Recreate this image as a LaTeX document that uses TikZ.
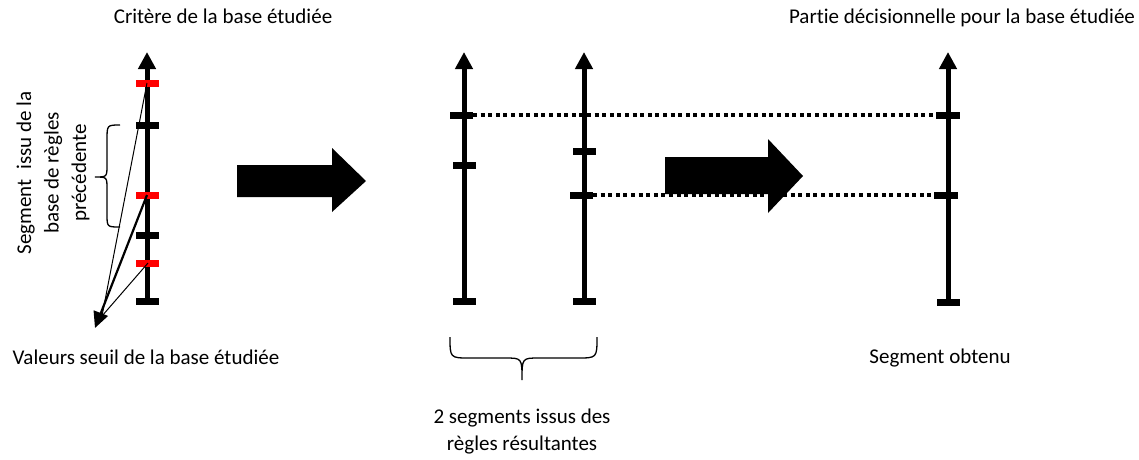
\documentclass[tikz,border=0pt]{standalone}
\usepackage{fontspec}
\setmainfont{Carlito}[Ligatures=NoCommon]
\usetikzlibrary{arrows.meta}
\definecolor{tickred}{RGB}{255,0,0}
\begin{document}
\begin{tikzpicture}[x=1pt,y=-1pt,
  axisline/.style={line width=5pt,-{Triangle[length=17pt,width=17pt]}},
  tickblack/.style={fill=black,draw=none},
  tickredst/.style={fill=tickred,draw=none},
  dottedline/.style={line width=3.5pt,dash pattern=on 4pt off 3.6pt},
  bigarrow/.style={fill=black,draw=none},
  bracest/.style={line width=1.3pt},
  lbl/.style={font=\fontsize{21}{26}\selectfont,inner sep=0pt,anchor=base}]
\useasboundingbox (0,0) rectangle (1139,459);
% ---- left axis
\coordinate (A0b) at (147,301); \coordinate (A0t) at (147,52);
\draw[axisline] (A0b) -- (A0t);
\foreach \y in {125,235,301} \fill[tickblack] (135.5,\y-3.5) rectangle (158.5,\y+3.5);
\foreach \y in {83,195,263} \fill[tickredst] (135.5,\y-3.5) rectangle (158.5,\y+3.5);
% lines to threshold point
\coordinate (R1) at (147,83); \coordinate (R2) at (147,195); \coordinate (R3) at (148,263);
\coordinate (P) at (102,316); \coordinate (Ptip) at (95,328);
\draw[line width=1pt] (R1) -- (P);
\draw[line width=1pt] (R3) -- (P);
\draw[line width=2.2pt,-{Triangle[length=16pt,width=15pt]}] (R2) -- (Ptip);
% left brace
\draw[bracest] (120,125) .. controls (107,125) .. (107,140) -- (107,165) .. controls (107,177) .. (95,177)
  .. controls (107,177) .. (107,189) -- (107,214) .. controls (107,227) .. (120,227);
% ---- first big arrow
\fill[bigarrow] (237,165) -- (332,165) -- (332,148) -- (366,181) -- (332,212) -- (332,197) -- (237,197) -- cycle;
% ---- middle axes
\coordinate (B1b) at (464,301); \coordinate (B1t) at (464,52);
\coordinate (B2b) at (584,301); \coordinate (B2t) at (584,52);
\coordinate (Cb) at (948,302); \coordinate (Ct) at (948,52);
% dotted lines
\coordinate (D1s) at (473,115); \coordinate (D1e) at (936,115);
\coordinate (D2s) at (593,195); \coordinate (D2e) at (936,195);
\draw[dottedline] (D1s) -- (D1e);
\draw[dottedline] (D2s) -- (D2e);
\draw[axisline] (B1b) -- (B1t);
\draw[axisline] (B2b) -- (B2t);
\draw[axisline] (Cb) -- (Ct);
\fill[tickblack] (450,111.5) rectangle (473,118.5);
\fill[tickblack] (452.5,161.5) rectangle (475.5,168.5);
\fill[tickblack] (452.5,297.5) rectangle (475.5,304.5);
\fill[tickblack] (572.5,147.5) rectangle (595.5,154.5);
\fill[tickblack] (570,191.5) rectangle (593,198.5);
\fill[tickblack] (572.5,297.5) rectangle (595.5,304.5);
\fill[tickblack] (936,111.5) rectangle (960,118.5);
\fill[tickblack] (934,191.5) rectangle (958,198.5);
\fill[tickblack] (936.5,298.5) rectangle (959.5,305.5);
% ---- second big arrow
\fill[bigarrow] (665,157) -- (768,157) -- (768,139) -- (803,176) -- (768,213) -- (768,194) -- (665,194) -- cycle;
% bottom brace
\draw[bracest] (450,337) .. controls (450,358) .. (470,358) -- (505,358) .. controls (522,358) .. (522,380)
  .. controls (522,358) .. (539,358) -- (577,358) .. controls (597,358) .. (597,337);
% ---- labels
\node[lbl] (t1) at (223,23) {Critère de la base étudiée};
\node[lbl] (t2) at (962,23) {Partie décisionnelle pour la base étudiée};
\node[lbl] (t3) at (146,364) {Valeurs seuil de la base étudiée};
\node[lbl] (t4) at (940,363) {Segment obtenu};
\node[lbl] (t5) at (522,423) {2 segments issus des};
\node[lbl] (t6) at (522,450) {règles résultantes};
\node[font=\fontsize{21}{27.5}\selectfont,inner sep=0pt,rotate=90,align=center] (t7) at (53,173)
  {Segment~ issu de la\\base de règles\\précédente};
\end{tikzpicture}
\end{document}
